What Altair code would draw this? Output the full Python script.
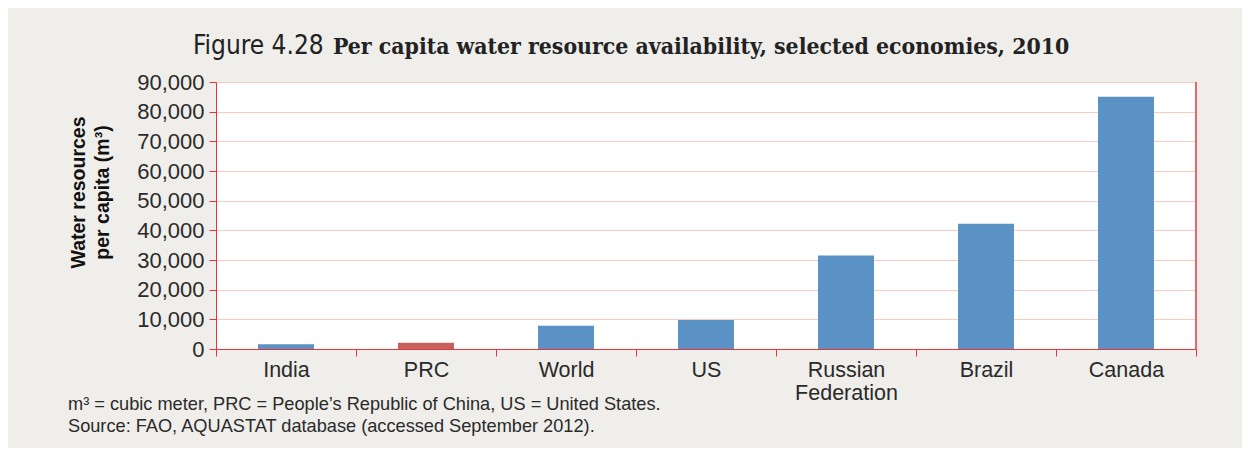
import altair as alt
import pandas as pd

economies = ["India", "PRC", "World", "US", "Russian Federation", "Brazil", "Canada"]
water_per_capita = [1600, 2100, 7800, 9800, 31500, 42200, 85000]
highlight = ["other", "PRC", "other", "other", "other", "other", "other"]

df = pd.DataFrame({"economy": economies, "value": water_per_capita, "group": highlight})
one = pd.DataFrame({"k": [0]})

RED = "#E8343C"
GRID = "#F8CDBF"
TXT = "#2a2a2a"

bars = alt.Chart(df).mark_bar(size=56).encode(
    x=alt.X("economy:N", sort=economies, title=None,
            scale=alt.Scale(paddingInner=0, paddingOuter=0),
            axis=alt.Axis(labelAngle=0, tickBand="extent", grid=False,
                          domainColor=RED, tickColor=RED, tickSize=7,
                          labelFontSize=21.5, labelColor=TXT, labelFont="Liberation Sans",
                          labelPadding=3, labelLineHeight=23,
                          labelExpr="datum.label == 'Russian Federation' ? ['Russian', 'Federation'] : datum.label")),
    y=alt.Y("value:Q", title=["Water resources", "per capita (m³)"],
            scale=alt.Scale(domain=[0, 90000], nice=False),
            axis=alt.Axis(values=list(range(0, 90001, 10000)), format=",.0f",
                          domainColor=RED, tickColor=RED, tickSize=7,
                          gridColor=GRID, gridWidth=1,
                          labelFontSize=22, labelColor=TXT, labelFont="Liberation Sans",
                          labelPadding=5,
                          titleFontSize=19.5, titleFont="Liberation Sans", titleFontWeight="bold",
                          titleColor="#111", titlePadding=24, titleLineHeight=24,
                          titleY=110)),
    color=alt.Color("group:N", scale=alt.Scale(domain=["other", "PRC"],
                                               range=["#5B92C6", "#C5625D"]), legend=None),
)

right_border = alt.Chart(one).mark_rule(color=RED, strokeWidth=1.5).encode(
    x=alt.value(980), y=alt.value(0), y2=alt.value(267)
)

title_a = alt.Chart(one).mark_text(align="left", baseline="alphabetic", fontSize=26,
                                   font="Liberation Sans Narrow, DejaVu Sans Condensed, Roboto",
                                   color="#222").encode(
    x=alt.value(-23), y=alt.value(-28), text=alt.value("Figure 4.28"))
title_b = alt.Chart(one).mark_text(align="left", baseline="alphabetic", fontSize=22.8,
                                   font="DejaVu Serif Condensed", fontWeight="bold", color="#222").encode(
    x=alt.value(117), y=alt.value(-28),
    text=alt.value("Per capita water resource availability, selected economies, 2010"))
note1 = alt.Chart(one).mark_text(align="left", baseline="middle", fontSize=18.2,
                                 font="Liberation Sans", color=TXT).encode(
    x=alt.value(-148), y=alt.value(323),
    text=alt.value("m³ = cubic meter, PRC = People’s Republic of China, US = United States."))
note2 = alt.Chart(one).mark_text(align="left", baseline="middle", fontSize=18.2,
                                 font="Liberation Sans", color=TXT).encode(
    x=alt.value(-148), y=alt.value(345),
    text=alt.value("Source: FAO, AQUASTAT database (accessed September 2012)."))

chart = alt.layer(bars, right_border, title_a, title_b, note1, note2).properties(
    width=980, height=267,
    autosize=alt.AutoSizeParams(type="none"),
    padding={"left": 208, "top": 74, "right": 46, "bottom": 99},
    background="#EFEEEA",
).configure_view(stroke=None, fill="white")

chart.save("out.html", embed_options={"renderer": "svg", "actions": False})
